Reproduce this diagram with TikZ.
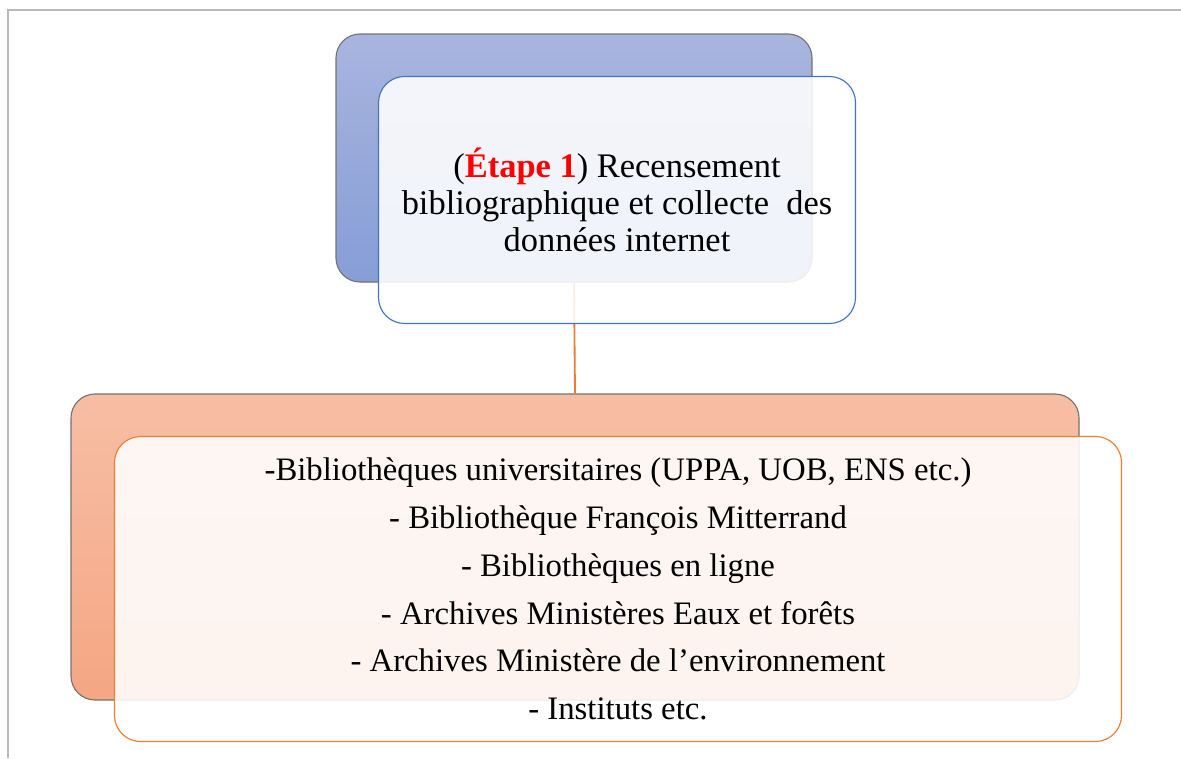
\documentclass[tikz,border=0pt]{standalone}
\usepackage{fontspec}
\setmainfont{Liberation Serif}
\usetikzlibrary{positioning,shapes}

\definecolor{bluetop}{RGB}{168,181,222}
\definecolor{bluebot}{RGB}{134,157,214}
\definecolor{orangetop}{RGB}{247,190,165}
\definecolor{orangebot}{RGB}{245,166,131}
\definecolor{blueline}{RGB}{68,114,196}
\definecolor{orangeline}{RGB}{237,125,49}

\begin{document}
\begin{tikzpicture}[x=0.025cm,y=-0.025cm,
    back/.style={draw=gray!90!black, line width=0.8pt, rounded corners=0.6cm,
      rectangle, inner sep=0pt},
    front/.style={draw, line width=0.8pt, rounded corners=0.65cm, rectangle,
      fill=white, fill opacity=0.88, text opacity=1, inner sep=0pt, align=center}]
  \useasboundingbox (0,0) rectangle (1181,758);
  % frame
  \draw[gray!55, line width=1.4pt] (8,758) -- (8,10) -- (1181,10);
  % back boxes
  \node[back, top color=bluetop, bottom color=bluebot,
    minimum width=476*0.025cm, minimum height=248*0.025cm] (step1) at (574,158) {};
  \node[back, top color=orangetop, bottom color=orangebot,
    minimum width=1008*0.025cm, minimum height=306*0.025cm] (sources) at (575,547) {};
  \draw[orangeline, line width=1.3pt] (step1.south) -- (sources.north);
  % front boxes
  \node[front, draw=blueline, minimum width=477*0.025cm, minimum height=247*0.025cm,
    font=\fontsize{24.5}{26.5}\selectfont] (step1text) at (617,200)
    {(\textcolor{red}{\textbf{Étape 1}}) Recensement\\
     bibliographique et collecte~ des\\
     données internet};
  \node[front, draw=orangeline, minimum width=1007*0.025cm, minimum height=305*0.025cm,
    font=\fontsize{23.3}{34}\selectfont] (sourcestext) at (618,589)
    {-Bibliothèques universitaires (UPPA, UOB, ENS etc.)\\
     - Bibliothèque François Mitterrand\\
     - Bibliothèques en ligne\\
     - Archives Ministères Eaux et forêts\\
     - Archives Ministère de l’environnement\\
     - Instituts etc.};
\end{tikzpicture}
\end{document}
